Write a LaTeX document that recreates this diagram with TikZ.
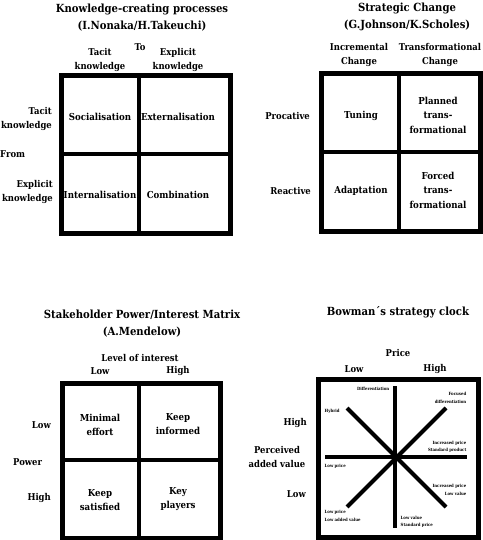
\documentclass[tikz,border=0pt]{standalone}
\usepackage{fontspec}
\setmainfont{DejaVu Serif Condensed}
\usetikzlibrary{positioning}

\begin{document}
\begin{tikzpicture}[
        x=1pt, y=-1pt,
        title/.style={font=\fontsize{11.2}{17}\selectfont\bfseries, align=center, inner sep=1pt},
        head/.style={font=\fontsize{9.4}{14}\selectfont\bfseries, align=center, inner sep=1pt},
        cell/.style={font=\fontsize{9.6}{14.5}\selectfont\bfseries, align=center, inner sep=1pt},
        tiny/.style={font=\fontsize{4.3}{7.5}\selectfont\bfseries, inner sep=0.5pt},
        frame/.style={line width=5pt},
        divider/.style={line width=4pt},
        spoke/.style={line width=4pt}
    ]
    \useasboundingbox (0,0) rectangle (482,540);

    % Knowledge-creating processes
    \node (kcTitle) [title] at (142,18) {Knowledge-creating processes\\(I.Nonaka/H.Takeuchi)};
    \node (kcTo) [head] at (140,47) {To};
    \node (kcTacitTop) [head] at (100,60) {Tacit\\knowledge};
    \node (kcExplTop) [head] at (178,60) {Explicit\\knowledge};
    \draw [frame] (61,76) rectangle (230,233);
    \draw [divider] (139,76) -- (139,233);
    \draw [divider] (61,154) -- (230,154);
    \node (kcSoc) [cell] at (100,117) {Socialisation};
    \node (kcExt) [cell] at (178,117) {Externalisation};
    \node (kcInt) [cell] at (100,195) {Internalisation};
    \node (kcCom) [cell] at (178,195) {Combination};
    \node (kcTacitLeft) [head, anchor=east, align=right] at (53,119) {Tacit\\knowledge};
    \node (kcFrom) [head, anchor=west] at (-1,154) {From};
    \node (kcExplLeft) [head, anchor=east, align=right] at (54,192) {Explicit\\knowledge};

    % Strategic change
    \node (scTitle) [title] at (407,17) {Strategic Change\\(G.Johnson/K.Scholes)};
    \node (scIncr) [head] at (359,55) {Incremental\\Change};
    \node (scTrans) [head] at (440,55) {Transformational\\Change};
    \draw [frame] (321,74) rectangle (480,231);
    \draw [divider] (399,74) -- (399,231);
    \draw [divider] (321,152) -- (480,152);
    \node (scTuning) [cell] at (361,116) {Tuning};
    \node (scPlanned) [cell] at (438,115) {Planned\\trans-\\formational};
    \node (scAdapt) [cell] at (361,191) {Adaptation};
    \node (scForced) [cell] at (438,190) {Forced\\trans-\\formational};
    \node (scProact) [head, anchor=east] at (311,116) {Procative};
    \node (scReact) [head, anchor=east] at (312,191) {Reactive};

    % Stakeholder matrix
    \node (shTitle) [title] at (142,324) {Stakeholder Power/Interest Matrix\\(A.Mendelow)};
    \node (shInterest) [head] at (140,358) {Level of interest};
    \node (shLowTop) [head] at (100,371) {Low};
    \node (shHighTop) [head] at (178,371) {High};
    \draw [frame] (62,383) rectangle (220,538);
    \draw [divider] (139,383) -- (139,538);
    \draw [divider] (62,460) -- (220,460);
    \node (shMinimal) [cell] at (100,425) {Minimal\\effort};
    \node (shInformed) [cell] at (178,424) {Keep\\informed};
    \node (shSatisfied) [cell] at (100,500) {Keep\\satisfied};
    \node (shPlayers) [cell] at (178,499) {Key\\players};
    \node (shLowLeft) [head, anchor=east] at (52,425) {Low};
    \node (shPower) [head, anchor=west] at (12,462) {Power};
    \node (shHighLeft) [head, anchor=east] at (52,498) {High};

    % Bowman's strategy clock
    \node (bcTitle) [title] at (398,312) {Bowman´s strategy clock};
    \node (bcPrice) [head] at (398,353) {Price};
    \node (bcLowTop) [head] at (354,369) {Low};
    \node (bcHighTop) [head] at (435,369) {High};
    \node (bcHighLeft) [head, anchor=east] at (308,423) {High};
    \node (bcValue) [head] at (277,457) {Perceived\\added value};
    \node (bcLowLeft) [head, anchor=east] at (307,494) {Low};
    \draw [frame] (318,379) rectangle (478,537);
    \coordinate (clock) at (395,457);
    \coordinate (clockN) at (395,386);
    \coordinate (clockS) at (395,528);
    \coordinate (clockW) at (325,457);
    \coordinate (clockE) at (467,457);
    \coordinate (clockNE) at (446,408);
    \coordinate (clockNW) at (347,408);
    \coordinate (clockSW) at (347,507);
    \coordinate (clockSE) at (446,507);
    \draw [spoke] (clockN) -- (clockS);
    \draw [spoke] (clockW) -- (clockE);
    \draw [spoke] (clockNW) -- (clockSE);
    \draw [spoke] (clockSW) -- (clockNE);
    \node (bcDiff) [tiny, anchor=east] at (390,389) {Differentiation};
    \node (bcHybrid) [tiny, anchor=west] at (324,411) {Hybrid};
    \node (bcFocused) [tiny, anchor=east, align=right] at (467,398) {Focused\\differentiation};
    \node (bcIncStd) [tiny, anchor=east, align=right] at (467,447) {Increased price\\Standard product};
    \node (bcLowPrice) [tiny, anchor=west] at (324,466) {Low price};
    \node (bcIncLow) [tiny, anchor=east, align=right] at (467,490) {Increased price\\Low value};
    \node (bcLowAdded) [tiny, anchor=west, align=left] at (324,516) {Low price\\Low added value};
    \node (bcLowStd) [tiny, anchor=west, align=left] at (400,522) {Low value\\Standard price};

\end{tikzpicture}
\end{document}
